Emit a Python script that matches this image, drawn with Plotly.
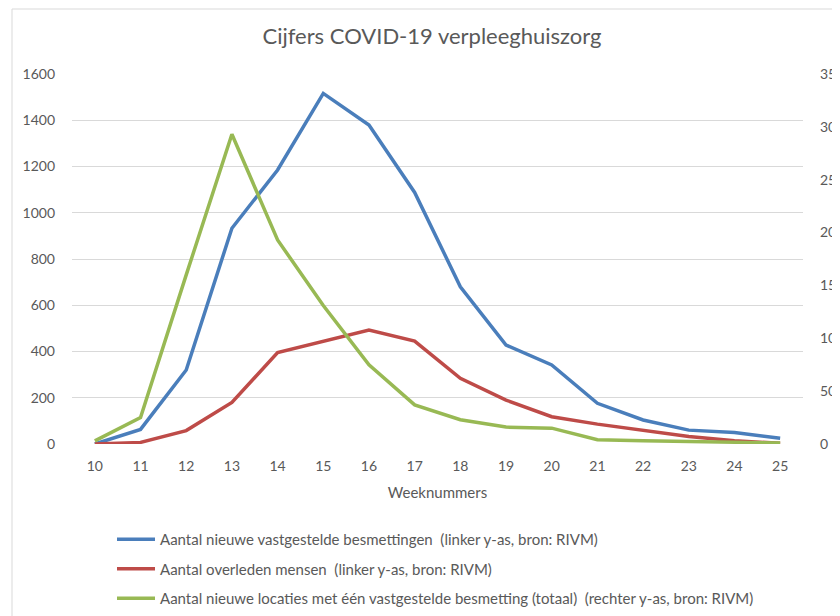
import plotly.graph_objects as go

weeks = list(range(10, 26))
besmettingen = [0, 63, 320, 933, 1185, 1516, 1379, 1088, 680, 428, 342, 176, 104, 60, 50, 25]
overleden = [0, 7, 58, 180, 395, 443, 493, 445, 284, 190, 118, 86, 58, 32, 14, 3]
locaties = [3, 25, 160, 293, 193, 131, 75, 37, 23, 16, 15, 4, 3, 2.5, 2, 1]

names = [
    "Aantal nieuwe vastgestelde besmettingen  (linker y-as, bron: RIVM)",
    "Aantal overleden mensen  (linker y-as, bron: RIVM)",
    "Aantal nieuwe locaties met één vastgestelde besmetting (totaal)  (rechter y-as, bron: RIVM)",
]
colors = ["#4a7ebb", "#be4b48", "#98b954"]

FONT = "Lato, 'Open Sans', sans-serif"
GRAY = "#595959"

fig = go.Figure()
fig.add_trace(go.Scatter(x=weeks, y=besmettingen, name=names[0], mode="lines",
                         line=dict(color=colors[0], width=3.5), legendgroup="a"))
fig.add_trace(go.Scatter(x=weeks, y=overleden, name=names[1], mode="lines",
                         line=dict(color=colors[1], width=3.5), legendgroup="b"))
fig.add_trace(go.Scatter(x=weeks, y=locaties, name=names[2], mode="lines", yaxis="y2",
                         line=dict(color=colors[2], width=3.5), legendgroup="c"))

# page body has an 8px margin; figure coordinates = page coordinates - 8
L, R, T, B = 64, 45, 66, 180
W, H = 840, 616
pw, ph = W - L - R, H - T - B

fig.update_layout(
    width=W, height=H,
    margin=dict(l=L, r=R, t=T, b=B, autoexpand=False),
    paper_bgcolor="white", plot_bgcolor="white",
    font=dict(family=FONT, color=GRAY, size=14),
    title=dict(text="Cijfers COVID-19 verpleeghuiszorg", x=424 / W, xanchor="center",
               y=1 - 28 / H, yanchor="middle", font=dict(size=22, color=GRAY)),
    xaxis=dict(range=[9.5, 25.5], tickvals=weeks, ticktext=[str(w) for w in weeks],
               showgrid=False, zeroline=False, showline=False, ticks="", automargin=False,
               ticklabelstandoff=12, tickfont=dict(size=14),
               title=dict(text="Weeknummers", font=dict(size=15), standoff=14)),
    yaxis=dict(range=[0, 1600], dtick=200, showgrid=True, gridcolor="#d9d9d9", gridwidth=1,
               zeroline=False, showline=False, ticks="", ticklabelstandoff=16, automargin=False,
               tickfont=dict(size=14)),
    yaxis2=dict(range=[0, 350], dtick=50, overlaying="y", side="right", showgrid=False,
                zeroline=False, showline=False, ticks="", ticklabelstandoff=16, automargin=False,
                tickfont=dict(size=14)),
    legend=dict(orientation="v", x=(104 - L) / pw, xanchor="left",
                y=(T + ph - 515) / ph, yanchor="top", font=dict(size=15, color=GRAY),
                tracegroupgap=7, itemwidth=38, bgcolor="rgba(0,0,0,0)"),
    showlegend=True,
)

fig.add_shape(type="rect", xref="paper", yref="paper",
              x0=(4 - L) / pw, x1=(W + 10 - L) / pw,
              y0=(T + ph - (H + 10)) / ph, y1=(T + ph - 1) / ph,
              line=dict(color="#d9d9d9", width=1), fillcolor="rgba(0,0,0,0)", layer="below")

fig.write_html("out.html")
